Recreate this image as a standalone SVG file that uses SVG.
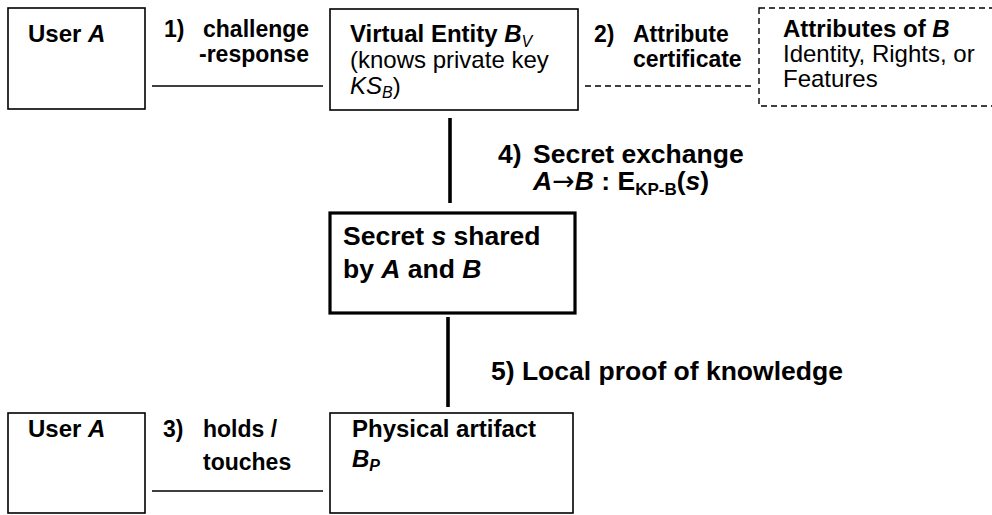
<svg xmlns="http://www.w3.org/2000/svg" width="992" height="515" viewBox="0 0 992 515">
<style>
.box{fill:#fff;stroke:#000;stroke-width:1.6}
.thick{fill:#fff;stroke:#000;stroke-width:3.2}
.dbox{fill:#fff;stroke:#000;stroke-width:1.4;stroke-dasharray:6 4}
.ln{stroke:#000;stroke-width:1.6;fill:none}
.dln{stroke:#000;stroke-width:1.4;stroke-dasharray:6 4;fill:none}
.tk{stroke:#000;stroke-width:3.6;fill:none}
text{font-family:"Liberation Sans",Arial,sans-serif;fill:#000}
.b{font-weight:bold}
.i{font-style:italic}
.s24{font-size:24px}
.s23{font-size:23px}
.s26{font-size:26.5px}
.arr{font-family:"DejaVu Sans",sans-serif;font-weight:normal;font-size:27px}
</style>
<rect width="992" height="515" fill="#fff"/>
<g id="connectors">
<line class="ln" x1="152" y1="86" x2="323" y2="86"/>
<line class="dln" x1="585" y1="86" x2="753" y2="86"/>
<line class="tk" x1="450" y1="118" x2="450" y2="203"/>
<line class="tk" x1="448" y1="317" x2="448" y2="407"/>
<line class="ln" x1="152" y1="491" x2="323" y2="491"/>
<text class="b s23"><tspan x="164" y="37">1)</tspan><tspan x="203" y="37">challenge</tspan><tspan x="199" y="62">-response</tspan></text>
<text class="b s23"><tspan x="594" y="42">2)</tspan><tspan x="633" y="42">Attribute</tspan><tspan x="633" y="67">certificate</tspan></text>
<text class="b s23"><tspan x="163" y="437">3)</tspan><tspan x="203" y="437">holds /</tspan><tspan x="203" y="470">touches</tspan></text>
<text class="b s26"><tspan x="498" y="163">4)</tspan><tspan x="533" y="163">Secret exchange</tspan></text>
<text class="b s26" x="533" y="190"><tspan class="i">A</tspan><tspan class="arr">→</tspan><tspan class="i">B</tspan> : E<tspan font-size="17" dy="5">KP-B</tspan><tspan dy="-5">(</tspan><tspan class="i">s</tspan>)</text>
<text class="b s26" x="491" y="380">5) Local proof of knowledge</text>
</g>
<g id="userA-top">
<rect class="box" x="8" y="8" width="137" height="101"/>
<text class="b s24" x="28" y="42">User <tspan class="i">A</tspan></text>
</g>
<g id="virtual-entity">
<rect class="box" x="330" y="9" width="248" height="101"/>
<text class="s24"><tspan x="350" y="42" class="b">Virtual Entity <tspan class="i">B</tspan><tspan class="i" font-weight="normal" font-size="16" dy="5">V</tspan></tspan><tspan x="350" y="68">(knows private key</tspan><tspan x="350" y="94"><tspan class="i">KS</tspan><tspan class="i" font-size="16" dy="4">B</tspan><tspan dy="-4">)</tspan></tspan></text>
</g>
<g id="attributes">
<rect class="dbox" x="759" y="8" width="240" height="98"/>
<text class="s24"><tspan x="783" y="37" class="b">Attributes of <tspan class="i">B</tspan></tspan><tspan x="783" y="62">Identity, Rights, or</tspan><tspan x="783" y="87">Features</tspan></text>
</g>
<g id="secret">
<rect class="thick" x="330" y="213" width="245" height="100"/>
<text class="b s26"><tspan x="343" y="245">Secret <tspan class="i">s</tspan> shared</tspan><tspan x="343" y="278">by <tspan class="i">A</tspan> and <tspan class="i">B</tspan></tspan></text>
</g>
<g id="userA-bottom">
<rect class="box" x="8" y="413" width="137" height="100"/>
<text class="b s24" x="28" y="437">User <tspan class="i">A</tspan></text>
</g>
<g id="physical-artifact">
<rect class="box" x="330" y="413" width="243" height="100"/>
<text class="b s24"><tspan x="352" y="437">Physical artifact</tspan><tspan x="352" y="467"><tspan class="i">B</tspan><tspan class="i" font-size="16" dy="4">P</tspan></tspan></text>
</g>
</svg>
